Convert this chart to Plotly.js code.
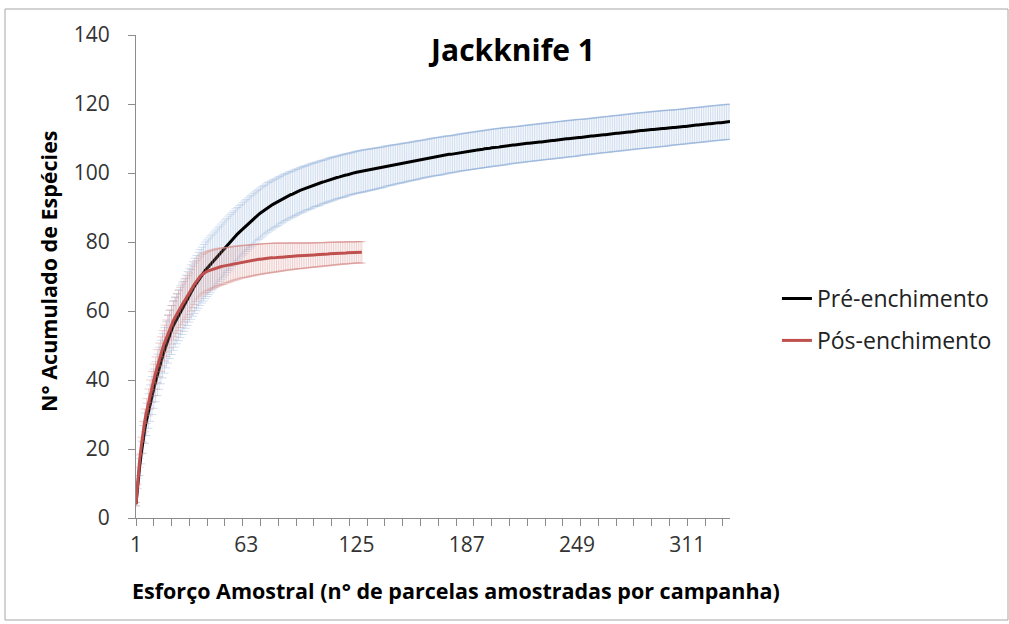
<!DOCTYPE html>
<html>
<head>
<meta charset="utf-8">
<script src="https://cdn.plot.ly/plotly-3.0.1.min.js"></script>
<style>html,body{margin:0;padding:0;background:#fff;}#chart{width:1009px;height:624px;}</style>
</head>
<body>
<div id="chart"></div>
<script>
// Pré-enchimento: mean accumulated species (samples 1..335)
const preMean = [
4.0,10.0,14.8,19.0,22.8,26.0,28.6,31.0,33.3,35.5,
37.5,39.5,41.5,43.4,45.2,47.0,48.6,50.2,51.8,53.2,
54.5,55.8,56.8,57.8,58.8,59.8,60.8,61.7,62.7,63.6,
64.6,65.5,66.4,67.3,68.1,68.9,69.7,70.4,71.1,71.8,
72.4,73.0,73.6,74.2,74.8,75.4,76.0,76.6,77.2,77.8,
78.4,79.0,79.6,80.1,80.7,81.2,81.8,82.3,82.8,83.3,
83.8,84.3,84.8,85.3,85.8,86.2,86.7,87.1,87.6,88.0,
88.4,88.8,89.2,89.6,90.0,90.3,90.6,90.9,91.2,91.5,
91.8,92.1,92.4,92.7,93.0,93.2,93.5,93.7,93.9,94.2,
94.4,94.6,94.9,95.1,95.3,95.5,95.7,95.9,96.1,96.3,
96.5,96.7,96.8,97.0,97.2,97.4,97.5,97.7,97.9,98.1,
98.2,98.4,98.5,98.7,98.8,99.0,99.1,99.2,99.4,99.5,
99.7,99.8,99.9,100.1,100.2,100.3,100.4,100.5,100.6,100.7,
100.8,100.9,101.0,101.1,101.2,101.3,101.4,101.5,101.6,101.7,
101.9,102.0,102.1,102.2,102.3,102.4,102.5,102.6,102.7,102.8,
102.9,103.0,103.1,103.2,103.3,103.4,103.5,103.6,103.7,103.8,
103.9,104.0,104.1,104.2,104.3,104.4,104.5,104.6,104.7,104.8,
104.8,104.9,105.0,105.1,105.2,105.3,105.4,105.4,105.5,105.6,
105.7,105.8,105.9,106.0,106.1,106.1,106.2,106.3,106.4,106.4,
106.5,106.6,106.7,106.7,106.8,106.9,107.0,107.0,107.1,107.2,
107.3,107.3,107.4,107.5,107.5,107.6,107.7,107.7,107.8,107.9,
107.9,108.0,108.1,108.1,108.2,108.2,108.3,108.4,108.4,108.5,
108.6,108.6,108.7,108.7,108.8,108.9,108.9,109.0,109.0,109.1,
109.2,109.2,109.3,109.3,109.4,109.4,109.5,109.6,109.6,109.7,
109.7,109.8,109.9,109.9,110.0,110.0,110.1,110.1,110.2,110.3,
110.3,110.4,110.4,110.5,110.5,110.6,110.7,110.7,110.8,110.8,
110.9,111.0,111.0,111.1,111.1,111.2,111.2,111.3,111.4,111.4,
111.5,111.5,111.6,111.6,111.7,111.8,111.8,111.9,111.9,112.0,
112.1,112.1,112.2,112.2,112.3,112.3,112.4,112.4,112.5,112.5,
112.6,112.6,112.7,112.7,112.8,112.8,112.9,112.9,113.0,113.0,
113.1,113.1,113.2,113.2,113.3,113.3,113.4,113.4,113.5,113.5,
113.6,113.7,113.7,113.8,113.8,113.9,113.9,114.0,114.0,114.1,
114.1,114.2,114.3,114.3,114.4,114.4,114.5,114.5,114.6,114.6,
114.7,114.7,114.8,114.8,114.9
];
const preErr = [
0.5,1.5,2.5,3.3,4.0,4.4,4.7,5.0,5.3,5.5,
5.7,5.8,6.0,6.1,6.3,6.4,6.6,6.7,6.9,7.0,
7.1,7.2,7.3,7.3,7.4,7.5,7.6,7.6,7.7,7.8,
7.8,7.9,7.9,8.0,8.0,8.1,8.1,8.1,8.2,8.2,
8.2,8.2,8.2,8.1,8.1,8.1,8.1,8.0,8.0,8.0,
8.0,7.9,7.9,7.9,7.8,7.8,7.8,7.7,7.7,7.6,
7.6,7.6,7.5,7.5,7.5,7.4,7.4,7.4,7.3,7.3,
7.3,7.3,7.2,7.2,7.2,7.1,7.1,7.1,7.0,7.0,
7.0,6.9,6.9,6.9,6.8,6.8,6.8,6.7,6.7,6.7,
6.7,6.6,6.6,6.6,6.6,6.5,6.5,6.5,6.5,6.5,
6.4,6.4,6.4,6.4,6.4,6.3,6.3,6.3,6.3,6.3,
6.3,6.3,6.2,6.2,6.2,6.2,6.2,6.2,6.2,6.1,
6.1,6.1,6.1,6.1,6.1,6.1,6.1,6.1,6.1,6.1,
6.1,6.0,6.0,6.0,6.0,6.0,5.9,5.9,5.9,5.9,
5.9,5.8,5.8,5.8,5.8,5.8,5.7,5.7,5.7,5.7,
5.7,5.7,5.6,5.6,5.6,5.6,5.6,5.6,5.6,5.6,
5.5,5.5,5.5,5.5,5.5,5.5,5.5,5.5,5.5,5.5,
5.5,5.5,5.5,5.5,5.5,5.4,5.4,5.4,5.4,5.4,
5.4,5.4,5.4,5.4,5.4,5.4,5.4,5.4,5.4,5.4,
5.4,5.4,5.4,5.4,5.4,5.4,5.4,5.4,5.4,5.4,
5.4,5.4,5.4,5.4,5.4,5.4,5.4,5.4,5.4,5.4,
5.3,5.3,5.3,5.3,5.3,5.3,5.3,5.3,5.3,5.3,
5.3,5.3,5.3,5.3,5.3,5.3,5.3,5.3,5.3,5.3,
5.3,5.3,5.3,5.3,5.3,5.3,5.3,5.3,5.3,5.3,
5.3,5.3,5.3,5.3,5.3,5.3,5.3,5.3,5.3,5.3,
5.2,5.2,5.2,5.2,5.2,5.2,5.2,5.2,5.2,5.2,
5.2,5.2,5.2,5.2,5.2,5.2,5.2,5.2,5.2,5.2,
5.2,5.2,5.2,5.2,5.2,5.2,5.2,5.2,5.2,5.2,
5.2,5.2,5.2,5.2,5.2,5.2,5.2,5.2,5.2,5.2,
5.2,5.2,5.2,5.2,5.2,5.2,5.2,5.2,5.2,5.2,
5.1,5.1,5.1,5.1,5.1,5.1,5.1,5.1,5.1,5.1,
5.1,5.1,5.1,5.1,5.1,5.1,5.1,5.1,5.1,5.1,
5.1,5.1,5.1,5.1,5.1,5.1,5.1,5.1,5.1,5.1,
5.1,5.1,5.1,5.1,5.1
];
// Pós-enchimento: mean accumulated species (samples 1..128)
const posMean = [
4.0,11.0,16.5,21.0,25.0,28.3,31.0,33.5,35.8,38.0,
40.0,42.0,44.0,45.8,47.5,49.2,50.7,52.1,53.5,54.8,
56.0,57.2,58.2,59.2,60.1,61.0,61.9,62.7,63.5,64.2,
65.0,66.0,67.0,67.9,68.7,69.4,70.0,70.5,70.9,71.2,
71.5,71.7,71.9,72.1,72.3,72.5,72.6,72.8,72.9,73.0,
73.1,73.3,73.4,73.5,73.7,73.8,73.9,74.0,74.1,74.2,
74.3,74.4,74.4,74.5,74.6,74.7,74.7,74.8,74.9,75.0,
75.0,75.1,75.2,75.2,75.3,75.3,75.4,75.4,75.5,75.5,
75.6,75.6,75.6,75.7,75.7,75.8,75.8,75.8,75.9,75.9,
75.9,76.0,76.0,76.0,76.0,76.1,76.1,76.1,76.2,76.2,
76.2,76.3,76.3,76.3,76.4,76.4,76.4,76.5,76.5,76.6,
76.6,76.6,76.7,76.7,76.7,76.8,76.8,76.8,76.8,76.9,
76.9,76.9,76.9,77.0,77.0,77.0,77.0,77.0
];
const posErr = [
0.5,1.2,1.8,2.4,3.0,3.3,3.6,3.9,4.2,4.5,
4.6,4.7,4.8,4.9,5.0,5.1,5.2,5.3,5.4,5.5,
5.6,5.6,5.7,5.7,5.8,5.8,5.9,5.9,6.0,6.0,
6.0,6.0,6.0,6.0,5.9,5.9,5.9,5.9,5.8,5.8,
5.7,5.7,5.6,5.6,5.5,5.5,5.4,5.4,5.3,5.3,
5.2,5.1,5.1,5.0,5.0,4.9,4.9,4.8,4.8,4.7,
4.7,4.7,4.6,4.6,4.6,4.5,4.5,4.5,4.4,4.4,
4.4,4.4,4.3,4.3,4.3,4.3,4.2,4.2,4.2,4.2,
4.1,4.1,4.0,4.0,4.0,3.9,3.9,3.9,3.8,3.8,
3.8,3.7,3.7,3.7,3.7,3.6,3.6,3.6,3.6,3.5,
3.5,3.5,3.5,3.5,3.4,3.4,3.4,3.4,3.4,3.4,
3.3,3.3,3.3,3.3,3.3,3.2,3.2,3.2,3.2,3.2,
3.2,3.1,3.1,3.1,3.1,3.1,3.1,3.1
];
const xTickVals = [1, 63, 125, 187, 249, 311];
const xTickText = ['1', '63', '125', '187', '249', '311'];
const seriesNames = ['Pré-enchimento', 'Pós-enchimento'];
const chartTitle = 'Jackknife 1';
const xTitle = 'Esforço Amostral (n° de parcelas amostradas por campanha)';
const yTitle = 'N° Acumulado de Espécies';

const samples = arr => arr.map((_, i) => i + 1);
const FONT = 'Open Sans, sans-serif';

const traces = [
  {
    type: 'scatter', mode: 'lines', name: seriesNames[0], legendgroup: 'a',
    x: samples(preMean), y: preMean,
    line: {color: '#000000', width: 3},
    error_y: {type: 'data', array: preErr, visible: true, color: 'rgba(141,172,214,0.4)', thickness: 1, width: 4}
  },
  {
    type: 'scatter', mode: 'lines', name: seriesNames[1], legendgroup: 'b',
    x: samples(posMean), y: posMean,
    line: {color: '#C0504D', width: 3},
    error_y: {type: 'data', array: posErr, visible: true, color: 'rgba(214,140,138,0.42)', thickness: 1, width: 4}
  }
];

const L = 136, R = 730, T = 35, B = 518;
const px = v => (v - L) / (R - L);
const py = v => (B - v) / (B - T);

const layout = {
  width: 1009, height: 624,
  margin: {l: L, r: 1009 - R, t: T, b: 624 - B},
  paper_bgcolor: '#ffffff', plot_bgcolor: '#ffffff',
  font: {family: FONT, color: '#333333'},
  showlegend: true,
  legend: {
    xref: 'container', yref: 'container', x: 0.770, y: 0.556, xanchor: 'left', yanchor: 'top',
    font: {family: FONT, size: 23, color: '#222222'},
    traceorder: 'grouped', tracegroupgap: 9, bgcolor: 'rgba(0,0,0,0)'
  },
  xaxis: {
    range: [1, 335], showgrid: false, zeroline: false,
    showline: true, linecolor: '#8c8c8c', linewidth: 1,
    tickmode: 'array', tickvals: xTickVals, ticktext: xTickText, ticks: '',
    tickfont: {family: FONT, size: 21, color: '#333333'},
    ticklabelstandoff: 8,
    minor: {ticks: 'outside', tick0: 1, dtick: 10, ticklen: 7, tickcolor: '#8c8c8c', showgrid: false}
  },
  yaxis: {
    range: [0, 140], dtick: 20, showgrid: false, zeroline: false,
    showline: true, linecolor: '#8c8c8c', linewidth: 1,
    ticks: 'outside', ticklen: 7, tickcolor: '#8c8c8c',
    tickfont: {family: FONT, size: 21, color: '#333333'},
    ticklabelstandoff: 14
  },
  title: {
    text: '<b>' + chartTitle + '</b>', x: px(513), xref: 'paper', xanchor: 'center',
    y: 1 - 50 / 624, yref: 'container', yanchor: 'middle',
    font: {family: FONT, size: 30, color: '#000000'}
  },
  annotations: [
    {text: '<b>' + xTitle + '</b>', xref: 'paper', yref: 'paper', x: px(456), y: py(590),
     xanchor: 'center', yanchor: 'middle', showarrow: false,
     font: {family: FONT, size: 21.5, color: '#000000'}},
    {text: '<b>' + yTitle + '</b>', xref: 'paper', yref: 'paper', x: px(48), y: py(271),
     xanchor: 'center', yanchor: 'middle', showarrow: false, textangle: -90,
     font: {family: FONT, size: 21.5, color: '#000000'}}
  ],
  shapes: [
    {type: 'rect', xref: 'paper', yref: 'paper', x0: px(5), x1: px(1008), y0: py(620), y1: py(9),
     line: {color: '#a6a6a6', width: 1}, fillcolor: 'rgba(0,0,0,0)', layer: 'below'}
  ]
};

Plotly.newPlot('chart', traces, layout, {displayModeBar: false, staticPlot: true});
</script>
</body>
</html>
